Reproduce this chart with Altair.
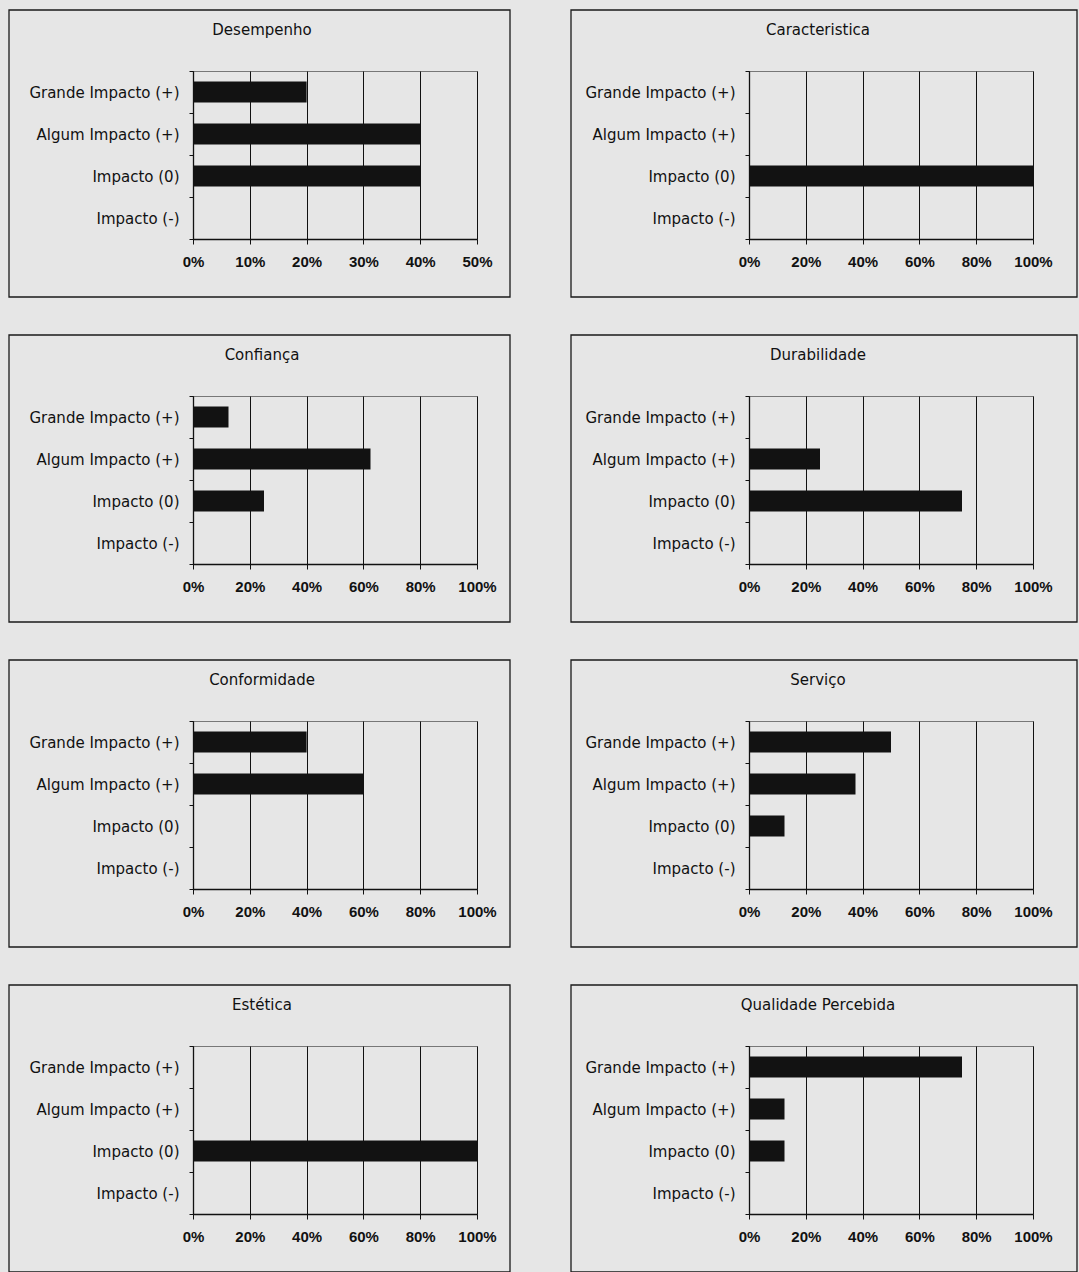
import altair as alt
import pandas as pd

categories = ["Grande Impacto (+)", "Algum Impacto (+)", "Impacto (0)", "Impacto (-)"]

titles = ["Desempenho", "Caracteristica", "Confiança", "Durabilidade",
          "Conformidade", "Serviço", "Estética", "Qualidade Percebida"]

desempenho = [0.20, 0.40, 0.40, 0.0]
caracteristica = [0.0, 0.0, 1.00, 0.0]
confianca = [0.125, 0.625, 0.25, 0.0]
durabilidade = [0.0, 0.25, 0.75, 0.0]
conformidade = [0.40, 0.60, 0.0, 0.0]
servico = [0.50, 0.375, 0.125, 0.0]
estetica = [0.0, 0.0, 1.00, 0.0]
qualidade = [0.75, 0.125, 0.125, 0.0]

series = [desempenho, caracteristica, confianca, durabilidade,
          conformidade, servico, estetica, qualidade]

ticks_50 = [0.0, 0.1, 0.2, 0.3, 0.4, 0.5]
ticks_100 = [0.0, 0.2, 0.4, 0.6, 0.8, 1.0]
x_ticks = [ticks_50, ticks_100, ticks_100, ticks_100,
           ticks_100, ticks_100, ticks_100, ticks_100]

FONT = "DejaVu Sans"
XFONT = "Liberation Sans"
W, H = 284, 168
TOP, BOTTOM = 61, 58


def panel(title, values, ticks, left, right):
    df = pd.DataFrame({"cat": categories, "val": values})
    df = df[df["val"] > 0]
    bars = alt.Chart(df).mark_bar(color="#121212", height={"band": 0.5}).encode(
        x=alt.X(
            "val:Q",
            scale=alt.Scale(domain=[ticks[0], ticks[-1]], nice=False, zero=True),
            axis=alt.Axis(
                values=ticks, format=".0%", title=None, grid=True,
                gridColor="#111", gridWidth=1, gridOpacity=1,
                tickColor="#111", tickSize=5, domainColor="#111", domainWidth=1.3,
                labelFont=XFONT, labelFontSize=15, labelFontWeight="bold",
                labelColor="#111", labelPadding=10, labelFlush=False,
            ),
        ),
        y=alt.Y(
            "cat:N",
            sort=categories,
            scale=alt.Scale(domain=categories, paddingInner=0, paddingOuter=0),
            axis=alt.Axis(
                title=None, tickBand="extent", tickColor="#111", tickSize=4,
                domainColor="#111", domainWidth=1.3,
                labelFont=FONT, labelFontSize=15, labelColor="#111",
                labelPadding=10, labelLimit=0,
            ),
        ),
    )
    tdf = pd.DataFrame({"t": [title]})
    frame = alt.Chart(tdf).mark_rect(
        fillOpacity=0, stroke="#1a1a1a", strokeWidth=1.3
    ).encode(
        x=alt.value(-left), x2=alt.value(W + right),
        y=alt.value(-TOP), y2=alt.value(H + BOTTOM),
    )
    ttl = alt.Chart(tdf).mark_text(
        font=FONT, fontSize=15, color="#111", baseline="middle", align="center"
    ).encode(
        text="t:N",
        x=alt.value(69),
        y=alt.value(-41),
    )
    return alt.layer(frame, bars, ttl).properties(width=W, height=H)


panels = []
for i, (t, v, tk) in enumerate(zip(titles, series, x_ticks)):
    if i % 2 == 0:
        panels.append(panel(t, v, tk, 184, 33))
    else:
        panels.append(panel(t, v, tk, 178, 44))

chart = alt.concat(
    *panels, columns=2, spacing=alt.RowColnumber(row=34, column=57)
).properties(
    padding={"left": 7, "top": 8, "right": 0, "bottom": 0},
    background="#e6e6e6",
).configure_view(
    stroke="#777", strokeWidth=1
)

chart.save("out.html", embed_options={"renderer": "svg", "actions": False})
